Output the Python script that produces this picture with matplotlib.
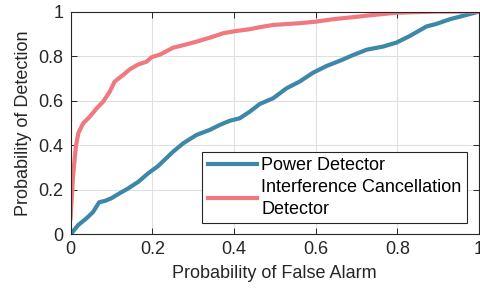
import matplotlib
matplotlib.use('Agg')
import matplotlib.pyplot as plt

# ROC-kurven, werte
pfa_power = [0.0, 0.019, 0.039, 0.055, 0.070, 0.084, 0.100, 0.117, 0.141, 0.166,
             0.190, 0.214, 0.239, 0.251, 0.276, 0.308, 0.341, 0.365, 0.390, 0.414,
             0.439, 0.463, 0.496, 0.529, 0.561, 0.594, 0.627, 0.659, 0.692, 0.725,
             0.765, 0.798, 0.831, 0.871, 0.896, 0.929, 0.961, 1.0]
pd_power = [0.0, 0.042, 0.072, 0.100, 0.144, 0.150, 0.162, 0.181, 0.206, 0.236,
            0.274, 0.306, 0.350, 0.371, 0.409, 0.446, 0.469, 0.491, 0.510, 0.521,
            0.551, 0.585, 0.611, 0.656, 0.686, 0.726, 0.756, 0.779, 0.805, 0.829,
            0.843, 0.861, 0.891, 0.933, 0.945, 0.966, 0.981, 1.0]

pfa_icd = [0.0, 0.006, 0.013, 0.019, 0.031, 0.047, 0.064, 0.080, 0.096, 0.108,
           0.129, 0.145, 0.166, 0.186, 0.198, 0.219, 0.251, 0.284, 0.308, 0.341,
           0.374, 0.406, 0.439, 0.463, 0.496, 0.561, 0.602, 0.643, 0.692, 0.731,
           0.798, 0.896, 1.0]
pd_icd = [0.072, 0.26, 0.394, 0.454, 0.499, 0.528, 0.566, 0.596, 0.641, 0.686,
          0.716, 0.741, 0.763, 0.775, 0.795, 0.807, 0.838, 0.853, 0.865, 0.883,
          0.903, 0.913, 0.921, 0.930, 0.940, 0.948, 0.955, 0.966, 0.975, 0.983,
          0.995, 1.0, 1.0]

labels = ['Power Detector', 'Interference Cancellation\nDetector']
farben = ['#3D87A8', '#F0787F']
ticks = [0, 0.2, 0.4, 0.6, 0.8, 1]
tick_labels = ['0', '0.2', '0.4', '0.6', '0.8', '1']

plt.rcParams['font.family'] = ['Liberation Sans', 'DejaVu Sans']
fs = 13

fig = plt.figure(figsize=(4.8, 2.9), dpi=100)
ax = fig.add_axes([0.147, 0.192, 0.851, 0.768])

ax.plot(pfa_power, pd_power, color=farben[0], lw=3, label=labels[0])
ax.plot(pfa_icd, pd_icd, color=farben[1], lw=3, label=labels[1])

ax.set_xlim(0, 1)
ax.set_ylim(0, 1)
ax.set_xticks(ticks)
ax.set_xticklabels(tick_labels)
ax.set_yticks(ticks)
ax.set_yticklabels(tick_labels)
ax.grid(True, color='#e0e0e0', lw=0.8)
ax.set_axisbelow(True)
ax.tick_params(direction='in', length=4, top=True, right=True, pad=5,
               colors='#262626', labelcolor='#262626', labelsize=fs, width=0.7)
for s in ax.spines.values():
    s.set_color('#262626')
    s.set_linewidth(0.8)

ax.set_xlabel('Probability of False Alarm', color='#262626', fontsize=fs, labelpad=5)
ax.set_ylabel('Probability of Detection', color='#262626', fontsize=fs, labelpad=5)

leg = ax.legend(loc='lower right', bbox_to_anchor=(0.970, 0.051), fontsize=fs,
                frameon=True, fancybox=False, framealpha=1, edgecolor='#262626',
                handlelength=2.7, handletextpad=0.25, borderpad=0.3,
                labelspacing=0.25, borderaxespad=0)
for t in leg.get_texts():
    t.set_linespacing(1.35)
leg.get_frame().set_linewidth(0.8)

fig.savefig('out.png', dpi=100)
